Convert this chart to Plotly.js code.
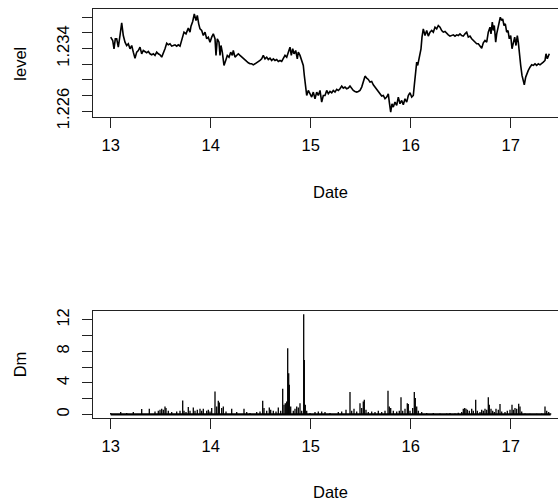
<!DOCTYPE html>
<html>
<head>
<meta charset="utf-8">
<script src="https://cdn.plot.ly/plotly-3.0.1.min.js"></script>
<style>
html, body { margin: 0; padding: 0; overflow: hidden; background: #fff; }
#chart { width: 580px; height: 503px; }
</style>
</head>
<body>
<div id="chart"></div>
<script>
// ---- top panel: level vs Date ----
const levelDate = [
13.000,13.020,13.033,13.046,13.060,13.076,13.093,13.110,13.126,13.143,
13.160,13.176,13.193,13.210,13.226,13.243,13.260,13.276,13.293,13.310,
13.326,13.343,13.360,13.376,13.393,13.410,13.426,13.443,13.460,13.476,
13.493,13.510,13.526,13.543,13.560,13.576,13.593,13.610,13.626,13.643,
13.660,13.676,13.693,13.710,13.720,13.733,13.753,13.766,13.776,13.793,
13.803,13.820,13.836,13.853,13.866,13.880,13.893,13.910,13.926,13.943,
13.960,13.976,13.993,
14.010,14.026,14.043,14.053,14.066,14.083,14.093,14.103,14.116,14.133,
14.150,14.166,14.183,14.200,14.216,14.226,14.243,14.260,14.276,14.293,
14.310,14.326,14.343,14.360,14.376,14.393,14.410,14.426,14.443,14.460,
14.476,14.493,14.510,14.526,14.543,14.560,14.576,14.593,14.610,14.626,
14.643,14.660,14.676,14.693,14.710,14.726,14.743,14.760,14.776,14.793,
14.806,14.820,14.833,14.850,14.866,14.876,14.893,14.910,14.926,14.936,
14.946,14.960,14.976,14.993,15.010,15.026,15.043,15.060,15.076,15.093,
15.110,15.126,
15.143,15.160,15.176,15.193,15.210,15.226,15.243,15.260,15.276,15.293,
15.310,15.326,15.343,15.360,15.376,15.393,15.410,15.426,15.443,15.460,
15.476,15.493,15.510,15.526,15.543,15.560,15.576,15.593,15.610,15.626,
15.643,15.660,15.676,15.693,15.710,15.726,15.743,15.760,15.776,15.786,
15.800,15.813,15.826,15.843,15.860,15.876,15.893,15.910,15.926,15.943,
15.960,15.976,15.993,16.010,16.026,16.036,16.046,16.060,16.070,16.083,
16.093,16.103,16.113,16.126,16.143,16.160,16.176,16.193,
16.210,16.226,16.243,16.260,16.276,16.293,16.310,16.326,16.343,16.360,
16.376,16.393,16.410,16.426,16.443,16.460,16.476,16.493,16.510,16.526,
16.543,16.560,16.576,16.593,16.610,16.626,16.643,16.660,16.676,16.693,
16.710,16.726,16.743,16.760,16.776,16.793,16.803,16.816,16.826,16.836,
16.850,16.860,16.870,16.883,16.896,16.910,16.920,16.933,16.946,16.960,
16.973,16.986,17.000,17.013,17.026,17.040,17.053,17.066,17.076,17.086,
17.100,17.113,17.126,17.136,17.150,17.160,17.176,17.193,17.210,17.226,
17.243,17.260,17.276,17.293,17.310,17.326,17.343,17.353,17.366,17.376,
17.386
];
const levelValue = [
1.23545,1.23502,1.23396,1.23524,1.23524,1.23417,1.23566,1.23728,1.23566,1.23481,
1.23438,1.23460,1.23396,1.23438,1.23353,1.23276,1.23353,1.23374,1.23417,1.23332,
1.23374,1.23353,1.23345,1.23362,1.23332,1.23319,1.23332,1.23311,1.23353,1.23332,
1.23319,1.23289,1.23332,1.23396,1.23468,1.23447,1.23460,1.23430,1.23438,1.23447,
1.23430,1.23447,1.23430,1.23502,1.23545,1.23609,1.23587,1.23630,1.23660,1.23609,
1.23685,1.23745,1.23843,1.23758,1.23822,1.23715,1.23651,1.23630,1.23566,1.23609,
1.23524,1.23545,1.23481,
1.23545,1.23587,1.23524,1.23311,1.23524,1.23481,1.23311,1.23438,1.23353,1.23183,
1.23247,1.23311,1.23289,1.23353,1.23311,1.23374,1.23289,1.23311,1.23332,1.23311,
1.23289,1.23268,1.23247,1.23234,1.23217,1.23204,1.23204,1.23191,1.23204,1.23217,
1.23234,1.23247,1.23268,1.23311,1.23268,1.23289,1.23259,1.23276,1.23247,1.23268,
1.23247,1.23259,1.23234,1.23247,1.23234,1.23268,1.23311,1.23289,1.23353,1.23417,
1.23311,1.23396,1.23332,1.23374,1.23268,1.23353,1.23311,1.23247,1.23183,1.23055,
1.22927,1.22799,1.22863,1.22821,1.22778,1.22842,1.22757,1.22842,1.22799,1.22863,
1.22714,1.22799,
1.22799,1.22863,1.22821,1.22850,1.22833,1.22863,1.22842,1.22876,1.22863,1.22885,
1.22919,1.22893,1.22906,1.22885,1.22893,1.22919,1.22885,1.22863,1.22850,1.22842,
1.22850,1.22863,1.22906,1.22970,1.23046,1.23021,1.23004,1.22970,1.22978,1.22936,
1.22906,1.22885,1.22850,1.22821,1.22791,1.22799,1.22757,1.22778,1.22821,1.22714,
1.22586,1.22693,1.22650,1.22714,1.22672,1.22778,1.22693,1.22735,1.22680,1.22757,
1.22714,1.22799,1.22833,1.22778,1.22799,1.22927,1.23098,1.23225,1.23183,1.23289,
1.23311,1.23396,1.23545,1.23651,1.23566,1.23630,1.23558,1.23609,
1.23630,1.23609,1.23673,1.23651,1.23694,1.23673,1.23630,1.23609,1.23617,1.23587,
1.23575,1.23558,1.23566,1.23575,1.23558,1.23575,1.23566,1.23587,1.23566,1.23558,
1.23587,1.23609,1.23545,1.23558,1.23524,1.23502,1.23481,1.23460,1.23460,1.23438,
1.23404,1.23472,1.23502,1.23481,1.23609,1.23673,1.23587,1.23737,1.23630,1.23694,
1.23481,1.23587,1.23651,1.23737,1.23800,1.23758,1.23779,1.23694,1.23715,1.23609,
1.23630,1.23524,1.23566,1.23396,1.23481,1.23545,1.23438,1.23566,1.23481,1.23311,
1.23183,1.23055,1.22970,1.22936,1.23034,1.23076,1.23119,1.23161,1.23191,1.23183,
1.23204,1.23183,1.23204,1.23191,1.23204,1.23225,1.23247,1.23332,1.23268,1.23311,
1.23332
];

// ---- bottom panel: Dm vs Date (vertical spikes) ----
const dmDate = [
13.000,13.100,13.160,13.226,13.310,13.386,13.443,13.476,13.493,13.510,
13.526,13.543,13.553,13.576,13.610,13.660,13.693,13.720,13.733,13.753,
13.776,13.793,13.826,13.843,13.866,13.893,13.910,13.926,13.960,13.976,
13.993,14.010,14.043,14.060,14.076,14.086,14.110,14.126,14.153,14.210,
14.260,14.333,14.360,14.393,14.460,14.493,14.520,14.533,14.560,14.586,
14.600,14.626,14.653,14.676,14.700,14.720,14.733,14.746,14.760,14.770,
14.780,14.786,14.800,14.826,14.843,14.860,14.876,14.893,14.910,14.930,
14.936,14.946,14.960,14.993,15.043,15.076,15.110,15.143,15.193,15.276,
15.310,15.353,15.393,15.410,15.433,15.460,15.493,15.510,15.526,15.536,
15.553,15.576,15.610,15.643,15.676,15.710,15.743,15.773,15.786,15.800,
15.826,15.860,15.886,15.903,15.920,15.943,15.966,15.976,15.993,16.020,
16.036,16.046,16.060,16.076,16.110,16.160,16.226,16.293,16.360,16.393,
16.443,16.476,16.510,16.526,16.540,16.553,16.566,16.586,16.610,16.626,
16.650,16.666,16.693,16.710,16.726,16.743,16.760,16.776,16.786,16.803,
16.820,16.836,16.853,16.876,16.893,16.910,16.943,16.966,16.993,17.013,
17.026,17.043,17.060,17.080,17.093,17.110,17.143,17.193,17.260,17.310,
17.343,17.360,17.380,17.400
];
const dmValue = [
0.17,0.30,0.17,0.30,0.68,0.72,0.38,0.46,0.59,0.72,
0.59,1.01,0.80,0.46,0.30,0.38,0.46,1.77,0.46,0.30,
0.93,0.46,0.89,0.46,0.59,0.72,0.46,0.72,0.46,0.59,
0.38,0.80,2.91,1.01,1.73,1.52,0.80,1.01,0.38,0.72,
0.30,0.72,0.30,0.17,0.30,0.38,1.73,0.80,0.46,0.89,
0.59,0.46,0.38,0.89,0.46,3.25,1.22,1.43,1.65,8.40,
5.23,3.76,1.01,0.46,0.72,1.01,0.89,1.43,0.46,12.70,
6.92,1.22,0.46,0.17,0.30,0.38,0.38,0.30,0.17,0.30,
0.38,0.59,2.83,0.46,0.72,0.38,1.43,0.80,1.65,1.86,
0.59,0.30,0.38,0.30,0.46,0.30,0.46,3.00,1.01,0.80,
0.46,0.38,0.46,2.19,0.46,0.72,1.43,1.31,0.46,0.80,
2.83,2.07,1.01,0.46,0.30,0.17,0.17,0.13,0.13,0.17,
0.13,0.21,0.30,0.72,0.80,0.72,0.59,0.46,0.72,0.46,
1.86,0.46,0.30,0.59,0.46,0.72,0.59,2.19,1.22,0.72,
0.46,0.30,0.72,0.59,1.31,0.38,0.30,0.46,0.59,1.22,
0.59,0.80,0.72,1.35,1.01,0.38,0.13,0.08,0.08,0.13,
1.01,0.46,0.30,0.13
];

// ---- axes ticks ----
const dateTickVals = [13, 14, 15, 16, 17];
const dateTickText = ['13', '14', '15', '16', '17'];
const levelTickVals = [1.226, 1.228, 1.230, 1.232, 1.234, 1.236, 1.238];
const levelTickText = ['1.226', '', '', '', '1.234', '', ''];
const dmTickVals = [0, 2, 4, 6, 8, 10, 12];
const dmTickText = ['0', '', '4', '', '8', '', '12'];

// spikes (type = "h") built from the Dm data
const spikeX = [], spikeY = [];
for (let i = 0; i < dmDate.length; i++) {
  spikeX.push(dmDate[i], dmDate[i], null);
  spikeY.push(0, dmValue[i], null);
}

const FONT = 'Liberation Sans, Arial, Helvetica, sans-serif';
const FS = 16.5;

const traces = [
  { x: levelDate, y: levelValue, type: 'scatter', mode: 'lines',
    line: { color: '#000', width: 1.6 }, xaxis: 'x', yaxis: 'y', hoverinfo: 'skip' },
  { x: [dmDate[0], dmDate[dmDate.length - 1]], y: [0, 0], type: 'scatter', mode: 'lines',
    line: { color: '#000', width: 2.4 }, xaxis: 'x2', yaxis: 'y2', hoverinfo: 'skip' },
  { x: spikeX, y: spikeY, type: 'scatter', mode: 'lines', connectgaps: false,
    line: { color: '#000', width: 1.3 }, xaxis: 'x2', yaxis: 'y2', hoverinfo: 'skip' }
];

function axisBase() {
  return {
    showline: true, mirror: true, linecolor: '#222', linewidth: 1,
    ticks: 'outside', ticklen: 10, tickwidth: 1, tickcolor: '#222',
    showgrid: false, zeroline: false, fixedrange: true,
    tickfont: { family: FONT, size: FS, color: '#000' }
  };
}

const xRange = [12.823, 17.573];

const layout = {
  width: 580, height: 503,
  margin: { l: 93, r: 12, t: 8.5, b: 84.7 },
  paper_bgcolor: '#fff', plot_bgcolor: '#fff',
  showlegend: false,
  xaxis: Object.assign(axisBase(), {
    domain: [0, 1], anchor: 'y', range: xRange,
    tickvals: dateTickVals, ticktext: dateTickText, ticklabelstandoff: 3
  }),
  yaxis: Object.assign(axisBase(), {
    domain: [0.7349, 1], anchor: 'x', range: [1.22518, 1.23905],
    tickvals: levelTickVals, ticktext: levelTickText, tickangle: -90, ticklabelstandoff: 6
  }),
  xaxis2: Object.assign(axisBase(), {
    domain: [0, 1], anchor: 'y2', range: xRange,
    tickvals: dateTickVals, ticktext: dateTickText, ticklabelstandoff: 3
  }),
  yaxis2: Object.assign(axisBase(), {
    domain: [0, 0.2624], anchor: 'x2', range: [-0.456, 13.165],
    tickvals: dmTickVals, ticktext: dmTickText, tickangle: -90, ticklabelstandoff: 6
  }),
  annotations: [
    { text: 'Date', xref: 'paper', yref: 'paper', x: 0.5, y: 0.5534, xanchor: 'center', yanchor: 'middle',
      showarrow: false, font: { family: FONT, size: FS, color: '#000' } },
    { text: 'Date', xref: 'paper', yref: 'paper', x: 0.5, y: -0.181, xanchor: 'center', yanchor: 'middle',
      showarrow: false, font: { family: FONT, size: FS, color: '#000' } },
    { text: 'level', xref: 'paper', yref: 'paper', x: -0.1537, y: 0.8663, xanchor: 'center', yanchor: 'middle',
      textangle: -90, showarrow: false, font: { family: FONT, size: FS, color: '#000' } },
    { text: 'Dm', xref: 'paper', yref: 'paper', x: -0.1537, y: 0.1313, xanchor: 'center', yanchor: 'middle',
      textangle: -90, showarrow: false, font: { family: FONT, size: FS, color: '#000' } }
  ]
};

Plotly.newPlot('chart', traces, layout, { staticPlot: true, displayModeBar: false });
</script>
</body>
</html>
